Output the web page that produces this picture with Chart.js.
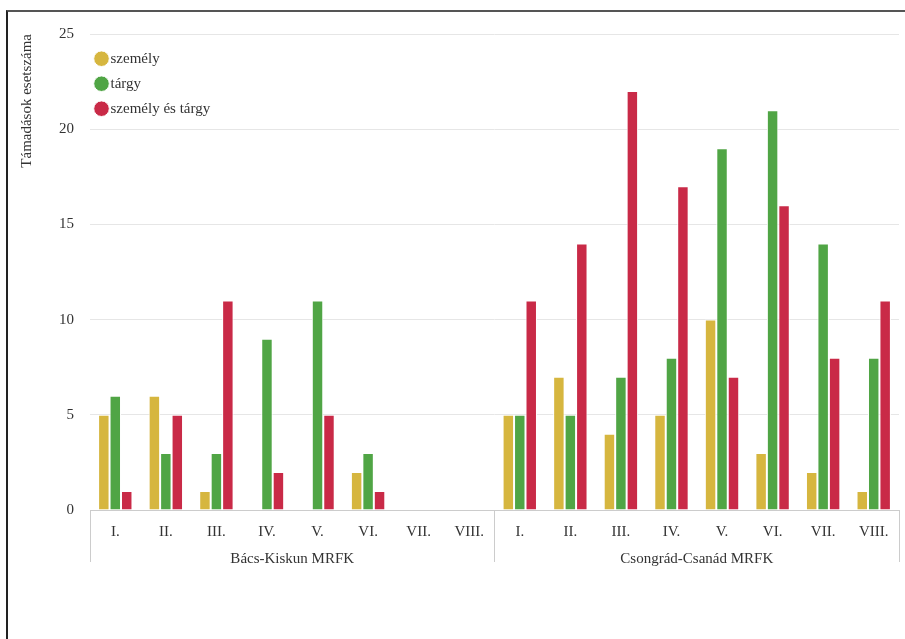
<!DOCTYPE html>
<html>
<head>
<meta charset="utf-8">
<script src="https://cdn.jsdelivr.net/npm/chart.js@4"></script>
<style>
    html, body { margin: 0; padding: 0; background: #fff; overflow: hidden; }
    #frame {
        position: absolute; left: 6px; top: 10px;
        width: 950px; height: 700px;
        border-left: 2px solid #222; border-top: 2px solid #555;
    }
    #chartBox { position: absolute; left: 2px; top: 2px; width: 897px; height: 627px; }
</style>
</head>
<body>
<div id="frame">
    <div id="chartBox"><canvas id="attackChart"></canvas></div>
</div>
<script>
const periods = ['I.', 'II.', 'III.', 'IV.', 'V.', 'VI.', 'VII.', 'VIII.'];
const groups = ['Bács-Kiskun MRFK', 'Csongrád-Csanád MRFK'];
const categories = periods.concat(periods);

// Bács-Kiskun first 8, Csongrád-Csanád last 8
const szemely = [5, 6, 1, 0, 0, 2, 0, 0, 5, 7, 4, 5, 10, 3, 2, 1];
const targy = [6, 3, 3, 9, 11, 3, 0, 0, 5, 5, 7, 8, 19, 21, 14, 8];
const szemelyEsTargy = [1, 5, 11, 2, 5, 1, 0, 0, 11, 14, 22, 17, 7, 16, 8, 11];

const yTicks = [0, 5, 10, 15, 20, 25];

const fontFamily = "'Liberation Serif', 'Times New Roman', serif";
const textColor = '#333333';

document.addEventListener('DOMContentLoaded', function() {
    const ctx = document.getElementById('attackChart').getContext('2d');

    function makeSet(label, data, color) {
        return {
            label: label,
            data: data,
            backgroundColor: color,
            borderColor: '#ffffff',
            borderWidth: 1,
            borderSkipped: 'bottom',
            categoryPercentage: 0.68,
            barPercentage: 1.0
        };
    }

    new Chart(ctx, {
        type: 'bar',
        data: {
            labels: categories,
            datasets: [
                makeSet('személy', szemely, '#d6b63f'),
                makeSet('tárgy', targy, '#50a545'),
                makeSet('személy és tárgy', szemelyEsTargy, '#c92a47')
            ]
        },
        options: {
            responsive: true,
            maintainAspectRatio: false,
            animation: false,
            layout: {
                padding: { left: 8, right: 8, top: 20, bottom: 68 }
            },
            plugins: {
                tooltip: { enabled: false },
                legend: {
                    position: 'chartArea',
                    align: 'start',
                    fullSize: false,
                    title: {
                        display: true,
                        text: ' ',
                        padding: { top: 12, bottom: 14 },
                        font: { size: 1 }
                    },
                    labels: {
                        usePointStyle: true,
                        pointStyle: 'circle',
                        boxWidth: 3,
                        boxHeight: 11,
                        padding: 10,
                        color: textColor,
                        font: { family: fontFamily, size: 15 }
                    }
                }
            },
            scales: {
                y: {
                    min: 0,
                    max: 25,
                    afterBuildTicks: function(scale) {
                        scale.ticks = yTicks.map(v => ({ value: v }));
                    },
                    afterFit: function(scale) {
                        // tick padding is only wanted on the left, not above the top label
                        scale.paddingTop = 10;
                        scale.paddingBottom = 10;
                    },
                    border: { display: false },
                    grid: { color: '#e6e6e6', drawTicks: false },
                    ticks: {
                        padding: 16,
                        color: textColor,
                        font: { family: fontFamily, size: 15 }
                    },
                    title: {
                        display: true,
                        text: 'Támadások esetszáma',
                        align: 'end',
                        color: textColor,
                        padding: { top: 0, bottom: 7 },
                        font: { family: fontFamily, size: 15 }
                    }
                },
                x: {
                    offset: true,
                    border: { display: true, color: '#cccccc' },
                    grid: {
                        offset: true,
                        drawOnChartArea: false,
                        tickLength: 52,
                        color: function(c) {
                            return (c.index === undefined || c.index % 8 === 0) ? '#cccccc' : 'rgba(0,0,0,0)';
                        }
                    },
                    ticks: {
                        autoSkip: false,
                        maxRotation: 0,
                        padding: -39,
                        color: textColor,
                        font: { family: fontFamily, size: 15 }
                    },
                    afterFit: function(scale) {
                        scale.height = 27;
                    }
                },
                x2: {
                    type: 'category',
                    labels: groups,
                    position: 'bottom',
                    offset: true,
                    border: { display: false },
                    grid: { display: false },
                    ticks: {
                        padding: 5,
                        maxRotation: 0,
                        color: textColor,
                        font: { family: fontFamily, size: 15 }
                    }
                }
            }
        }
    });
});
</script>
</body>
</html>
